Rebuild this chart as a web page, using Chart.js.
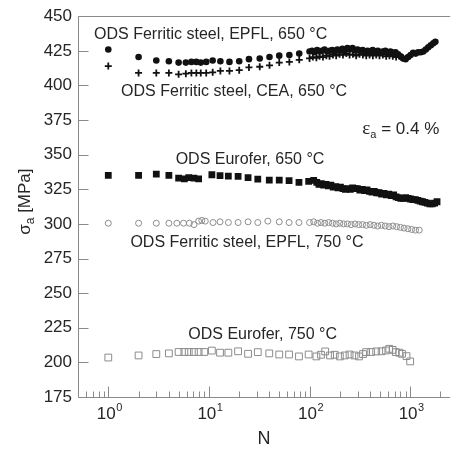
<!DOCTYPE html>
<html>
<head>
<meta charset="utf-8">
<script src="https://cdn.jsdelivr.net/npm/chart.js@4/dist/chart.umd.min.js"></script>
<style>
  html, body { margin: 0; padding: 0; background: #fff; }
  #wrap { width: 456px; height: 450px; }
  canvas { display: block; }
</style>
</head>
<body>
<div id="wrap"><canvas id="c" width="456" height="450"></canvas></div>
<script>
// ---- Cyclic stress amplitude vs. number of cycles (strain amplitude 0.4 %) ----

// ODS ferritic steel, EPFL, 650 °C (filled circles)
const epfl650N = [1, 2, 3, 4, 5, 5.9, 6.7, 7.5, 8.3, 9.4, 10.9, 13, 16, 20, 25, 32, 40, 50, 63, 79,
  100, 106, 112, 119, 126, 133, 141, 150, 159, 168, 178, 189, 200, 212, 225, 238, 252, 267, 283, 300,
  318, 337, 357, 378, 400, 424, 450, 477, 505, 535, 567, 601, 637, 675, 715, 758, 803, 851, 902, 956,
  1010, 1070, 1135, 1200, 1275, 1350, 1430, 1515, 1605, 1700, 1780];
const epfl650S = [426, 420.5, 418, 417.5, 416.5, 416.5, 417, 417, 416.5, 417, 418, 417.5, 417, 417.5, 419, 419.5, 420.5, 421.5, 422, 423,
  424.5, 425, 424, 425.5, 424.5, 425, 426, 424.5, 425, 425.5, 424.5, 426, 425, 426.5, 425.5, 427, 426, 427, 425.5, 426,
  425, 425.5, 424.5, 425, 424.5, 425.5, 424.5, 425, 424, 424.5, 425, 424, 424.5, 423.5, 424, 422.5, 421, 419.5, 419, 420.5,
  422, 423.5, 423, 424, 424, 424.5, 426, 427.5, 429, 430.5, 431.5];

// ODS ferritic steel, CEA, 650 °C (crosses)
const cea650N = [1, 2, 3, 4, 5, 5.9, 6.7, 7.5, 8.3, 9.4, 10.9, 13, 16, 20, 25, 32, 40, 50, 63, 79,
  100, 108, 117, 126, 136, 147, 158, 171, 184, 199, 215, 232, 250, 270, 291, 314, 339, 366, 395, 426,
  460, 496, 535, 578, 623, 672, 725, 783, 845, 910];
const cea650S = [414, 409, 409, 409, 408, 408.5, 409, 409, 409, 409, 409.5, 410.5, 410.5, 411, 413, 413.5, 414.5, 416.5, 417, 418.5,
  419.5, 420.5, 420, 421, 420.5, 421.5, 421, 422, 421.5, 422.5, 422, 423, 422, 422.5, 421.5, 422.5, 422, 421.5, 422, 421.5,
  422, 421.5, 422, 421, 421.5, 421, 420.5, 421, 420, 419.5];

// ODS Eurofer, 650 °C (filled squares)
const eurofer650N = [1, 2, 3, 4, 5, 5.7, 6.3, 7.1, 7.9, 10.7, 12.9, 15.6, 19.5, 24.5, 30.6, 39.8, 50, 62.6, 78.5, 98, 110,
  118, 124, 131, 138, 146, 154, 163, 172, 182, 192, 203, 215, 227, 240, 254, 268, 283, 299, 316, 334,
  353, 373, 394, 417, 440, 465, 492, 520, 549, 580, 613, 648, 685, 724, 765, 808, 854, 902, 954, 1008,
  1065, 1125, 1189, 1257, 1328, 1404, 1484, 1568, 1657, 1750, 1850];
const eurofer650S = [335, 335, 336, 335, 333, 332.5, 333.5, 333, 332.5, 335.5, 334.8, 334.5, 334.3, 333.5, 332.4, 331.6, 331.6, 331.2, 330, 330.7, 331.5,
  330, 328.5, 329, 328, 328.5, 327.5, 328, 326.5, 327, 326, 326.5, 325.5, 325, 325.5, 325, 326, 325.5, 325.5, 324.5, 325,
  324, 324.5, 323.5, 323, 323.5, 322.5, 322.5, 321.5, 322, 321, 321.5, 320.5, 321, 319.5, 319, 318.5, 318.5, 319, 318.5, 318,
  317.5, 317.5, 317, 316.5, 316, 315.5, 315, 314.5, 314.5, 315, 316];

// ODS ferritic steel, EPFL, 750 °C (open circles)
const epfl750N = [1, 2, 3, 4, 4.8, 5.6, 6.4, 7.1, 7.9, 8.5, 9.2, 11, 12.9, 15.6, 19.5, 24.5, 30.6, 38.5, 50, 62.6, 78.5,
  100, 110, 120, 130, 142, 155, 169, 184, 200, 218, 238, 259, 283, 308, 336, 366, 400, 436, 475, 518,
  565, 616, 672, 733, 800, 870, 950, 1035, 1130, 1230];
const epfl750S = [300.5, 300.5, 300.5, 300.5, 300.5, 300.5, 300.5, 299.5, 302, 302.5, 302, 301, 301.5, 301, 301, 301.5, 301, 302, 301.5, 301, 301,
  301, 301.5, 300.5, 301, 300.5, 301, 300.5, 300, 300.5, 300, 300, 299.5, 300, 299.5, 299.5, 299, 299.5, 299, 298.5, 299,
  298.5, 298, 298.5, 298, 297.5, 297, 296.5, 296, 295.5, 295.5];

// ODS Eurofer, 750 °C (open squares)
const eurofer750N = [1, 2, 3, 4, 5, 5.7, 6.3, 7.1, 7.9, 9, 10.7, 12.9, 15.6, 19.5, 24.5, 30.6, 39.8, 50, 62.6, 78.5, 98,
  117, 130, 143, 160, 178, 200, 224, 250, 280, 310, 340, 365, 410, 460, 520, 575, 620, 670, 720, 780,
  830, 920, 1000];
const eurofer750S = [203.5, 205, 206, 206.5, 207.5, 207.5, 207.5, 207.5, 207.5, 207.5, 208.5, 207, 207, 208, 206.2, 207.4, 206.5, 205.7, 205.7, 204.3, 205.7,
  204.3, 205.5, 207.9, 205, 205.5, 204.3, 205, 205.7, 205, 204.3, 206, 207.4, 207.5, 207.9, 208, 208.6, 209.8, 209, 207.4, 207,
  206.2, 204.5, 200.7];

// Axis ticks
const yTickValues = [175, 200, 225, 250, 275, 300, 325, 350, 375, 400, 425, 450];
const xDecadeExponents = [0, 1, 2, 3];

// Text placed in data space: [N, sigma]
const noteTexts = ['ODS Ferritic steel, EPFL, 650 °C', 'ODS Ferritic steel, CEA, 650 °C', 'ODS Eurofer, 650 °C',
  'ODS Ferritic steel, EPFL, 750 °C', 'ODS Eurofer, 750 °C'];
const noteN = [10.4, 17.8, 25.6, 23.9, 34.2];
const noteS = [437, 395.7, 346.4, 286.4, 220];
const strainNoteAt = [335, 369.3];

const SANS = '"Liberation Sans", Arial, Helvetica, sans-serif';
const AXIS = '#8a8a8a';
const TEXT = '#262626';

const pts = (n, s) => n.map((v, i) => ({ x: v, y: s[i] }));

const decor = {
  id: 'decor',
  beforeDatasetsDraw(chart) {
    const { ctx, chartArea: a, scales: { x, y } } = chart;
    ctx.save();
    ctx.strokeStyle = AXIS;
    ctx.lineWidth = 1;
    const line = (x1, y1, x2, y2) => { ctx.beginPath(); ctx.moveTo(x1, y1); ctx.lineTo(x2, y2); ctx.stroke(); };
    const L = Math.round(a.left) + 0.5, B = Math.round(a.bottom) + 0.5, T = Math.round(a.top) + 0.5;
    line(L, T, a.right, T);          // top frame
    line(L, T, L, B);                // left axis
    line(L, B, a.right, B);          // bottom axis
    for (const v of yTickValues) {
      const py = Math.round(y.getPixelForValue(v)) + 0.5;
      line(L, py, L + 10, py);
    }
    for (let e = -1; e <= 3; e++) {
      for (let m = 1; m <= 9; m++) {
        const v = m * Math.pow(10, e);
        if (v < x.min || v > x.max) continue;
        const px = Math.round(x.getPixelForValue(v)) + 0.5;
        line(px, B, px, B - (m === 1 ? 11 : 6));
      }
    }
    ctx.restore();
  },
  afterDraw(chart) {
    const { ctx, chartArea: a, scales: { x, y } } = chart;
    ctx.save();
    ctx.fillStyle = TEXT;
    ctx.textBaseline = 'alphabetic';

    // decade labels 10^k
    for (const e of xDecadeExponents) {
      const px = x.getPixelForValue(Math.pow(10, e));
      ctx.font = '17px ' + SANS;
      const wb = ctx.measureText('10').width;
      ctx.font = '11px ' + SANS;
      const ws = ctx.measureText(String(e)).width;
      const x0 = px - (wb + ws) / 2 + 1;
      ctx.font = '17px ' + SANS;
      ctx.textAlign = 'left';
      ctx.fillText('10', x0, a.bottom + 22);
      ctx.font = '11px ' + SANS;
      ctx.fillText(String(e), x0 + wb + 0.5, a.bottom + 14);
    }

    // axis titles
    ctx.font = '18px ' + SANS;
    ctx.textAlign = 'center';
    ctx.fillText('N', (a.left + a.right) / 2, a.bottom + 47);

    ctx.save();
    ctx.translate(30, (a.top + a.bottom) / 2 - 5);
    ctx.rotate(-Math.PI / 2);
    ctx.textAlign = 'left';
    ctx.font = '17px ' + SANS;
    const w1 = ctx.measureText('σ').width;
    ctx.font = '12px ' + SANS;
    const w2 = ctx.measureText('a').width;
    ctx.font = '17px ' + SANS;
    const w3 = ctx.measureText(' [MPa]').width;
    const sx = -(w1 + w2 + w3) / 2;
    ctx.fillText('σ', sx, 0);
    ctx.font = '12px ' + SANS;
    ctx.fillText('a', sx + w1, 4);
    ctx.font = '17px ' + SANS;
    ctx.fillText(' [MPa]', sx + w1 + w2, 0);
    ctx.restore();

    // series notes
    ctx.font = '16px ' + SANS;
    ctx.textAlign = 'center';
    ctx.textBaseline = 'middle';
    noteTexts.forEach((t, i) => {
      ctx.fillText(t, x.getPixelForValue(noteN[i]), y.getPixelForValue(noteS[i]));
    });

    // strain amplitude note
    const ex = x.getPixelForValue(strainNoteAt[0]);
    const ey = y.getPixelForValue(strainNoteAt[1]);
    ctx.textAlign = 'left';
    ctx.textBaseline = 'alphabetic';
    ctx.font = '19px "Liberation Serif", "DejaVu Serif", serif';
    ctx.fillText('ε', ex, ey + 6);
    const we = ctx.measureText('ε').width;
    ctx.font = '11px ' + SANS;
    ctx.fillText('a', ex + we, ey + 10);
    const wa = ctx.measureText('a').width;
    ctx.font = '17px ' + SANS;
    ctx.fillText(' = 0.4 %', ex + we + wa, ey + 6);
    ctx.restore();
  }
};

const markerGray = '#8c8c8c';

new Chart(document.getElementById('c'), {
  type: 'scatter',
  data: {
    datasets: [
      { label: 'ODS Ferritic steel, EPFL, 650 °C', data: pts(epfl650N, epfl650S),
        pointStyle: 'circle', radius: 3.3, backgroundColor: '#111', borderColor: '#111', borderWidth: 0 },
      { label: 'ODS Ferritic steel, CEA, 650 °C', data: pts(cea650N, cea650S),
        pointStyle: 'cross', radius: 3.5, borderColor: '#111', borderWidth: 1.8 },
      { label: 'ODS Eurofer, 650 °C', data: pts(eurofer650N, eurofer650S),
        pointStyle: 'rect', radius: 4.8, backgroundColor: '#111', borderColor: '#111', borderWidth: 0 },
      { label: 'ODS Ferritic steel, EPFL, 750 °C', data: pts(epfl750N, epfl750S),
        pointStyle: 'circle', radius: 3, backgroundColor: 'rgba(255,255,255,0)', borderColor: markerGray, borderWidth: 1 },
      { label: 'ODS Eurofer, 750 °C', data: pts(eurofer750N, eurofer750S),
        pointStyle: 'rect', radius: 4.8, backgroundColor: 'rgba(255,255,255,0)', borderColor: markerGray, borderWidth: 1 }
    ]
  },
  options: {
    responsive: false,
    animation: false,
    devicePixelRatio: 1,
    layout: { padding: { top: 14, right: 0, bottom: 0, left: 0 } },
    plugins: { legend: { display: false }, tooltip: { enabled: false } },
    elements: { point: { hoverRadius: 0 } },
    scales: {
      x: {
        type: 'logarithmic', min: 0.5, max: 2500,
        grid: { display: false, drawTicks: false },
        border: { display: false },
        ticks: { display: false },
        afterFit: s => { s.height = 53; }
      },
      y: {
        type: 'linear', min: 175, max: 450,
        grid: { display: false, drawTicks: false },
        border: { display: false },
        ticks: { stepSize: 25, padding: 6, color: TEXT, font: { family: SANS, size: 17 } },
        afterFit: s => { s.width = 78; }
      }
    }
  },
  plugins: [decor]
});
</script>
</body>
</html>
